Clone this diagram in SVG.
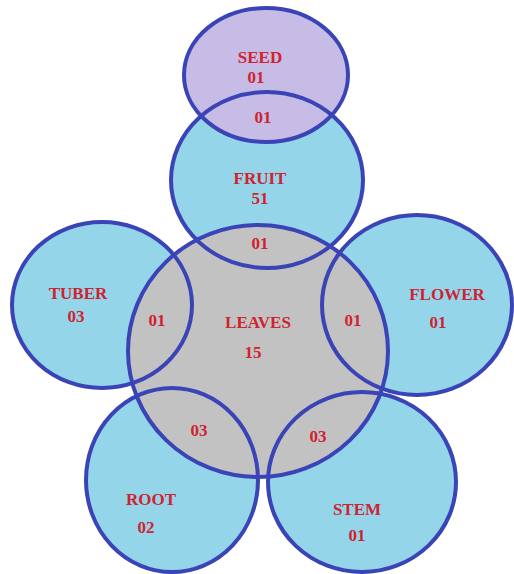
<svg xmlns="http://www.w3.org/2000/svg" width="514" height="574" viewBox="0 0 514 574">
<style>
.blue{fill:#95d5ea;stroke:none}
.purple{fill:#c7bce6;stroke:none}
.gray{fill:#c2c2c2;stroke:none}
.ol{fill:none;stroke:#3a44b6;stroke-width:4}
text{font-family:"Liberation Serif","Times New Roman",serif;font-weight:bold;font-size:17px;fill:#cf2330;text-anchor:middle}
</style>
<rect width="514" height="574" fill="#ffffff"/>
<g id="fruit">
<ellipse class="blue" cx="267" cy="180" rx="96" ry="88"/>
<text x="260" y="184">FRUIT</text>
<text x="260" y="204">51</text>
</g>
<g id="seed">
<ellipse class="purple" cx="266" cy="75" rx="82" ry="67"/>
<text x="260" y="63">SEED</text>
<text x="256" y="83">01</text>
</g>
<g id="tuber">
<ellipse class="blue" cx="102" cy="305" rx="90" ry="83"/>
<text x="78" y="299">TUBER</text>
<text x="76" y="322">03</text>
</g>
<g id="flower">
<ellipse class="blue" cx="417" cy="305" rx="95" ry="90"/>
<text x="447" y="300">FLOWER</text>
<text x="438" y="328">01</text>
</g>
<g id="root">
<ellipse class="blue" cx="172" cy="480" rx="86" ry="92"/>
<text x="151" y="505">ROOT</text>
<text x="146" y="533">02</text>
</g>
<g id="stem">
<ellipse class="blue" cx="362" cy="482" rx="94" ry="90"/>
<text x="357" y="515">STEM</text>
<text x="357" y="541">01</text>
</g>
<g id="leaves">
<ellipse class="gray" cx="258" cy="351" rx="130" ry="126"/>
<text x="258" y="328">LEAVES</text>
<text x="253" y="358">15</text>
</g>
<g id="connectors">
<ellipse class="ol" cx="267" cy="180" rx="96" ry="88"/>
<ellipse class="ol" cx="266" cy="75" rx="82" ry="67"/>
<ellipse class="ol" cx="102" cy="305" rx="90" ry="83"/>
<ellipse class="ol" cx="417" cy="305" rx="95" ry="90"/>
<ellipse class="ol" cx="172" cy="480" rx="86" ry="92"/>
<ellipse class="ol" cx="362" cy="482" rx="94" ry="90"/>
<ellipse class="ol" cx="258" cy="351" rx="130" ry="126"/>
</g>
<g id="overlaps">
<text x="263" y="123">01</text>
<text x="260" y="249">01</text>
<text x="157" y="326">01</text>
<text x="353" y="326">01</text>
<text x="199" y="436">03</text>
<text x="318" y="442">03</text>
</g>
</svg>
